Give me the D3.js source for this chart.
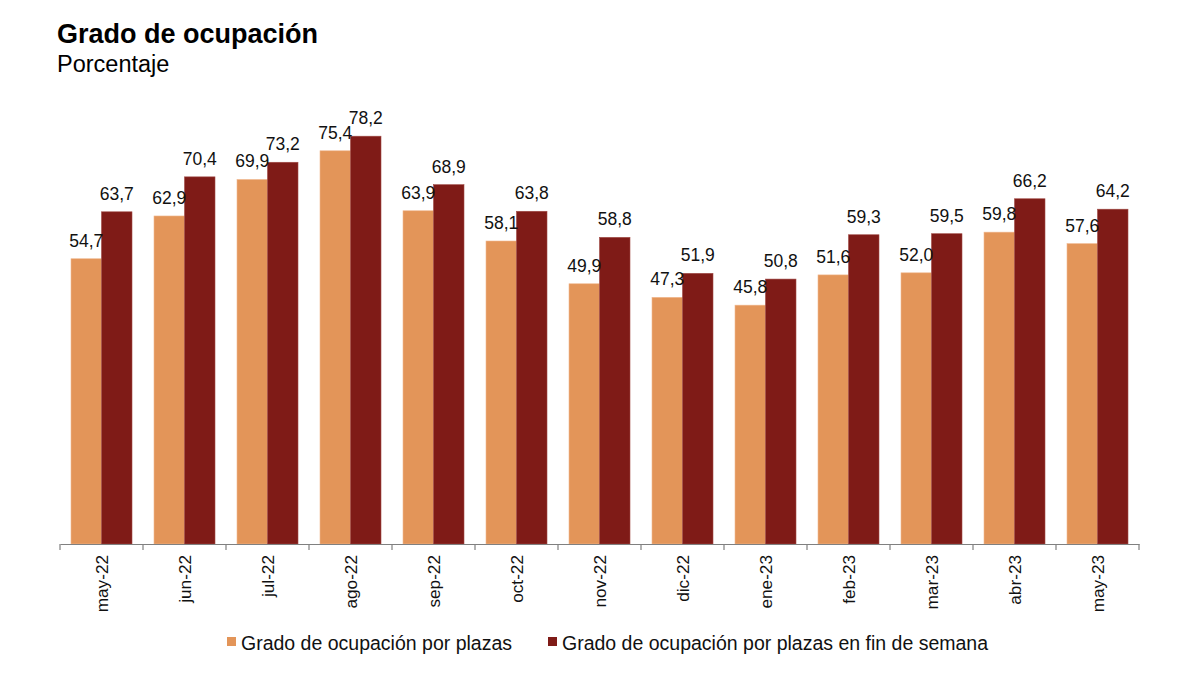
<!DOCTYPE html>
<html>
<head>
<meta charset="utf-8">
<script src="https://cdn.jsdelivr.net/npm/d3@7"></script>
<style>
  body { margin: 0; background: #fff; }
  svg { display: block; font-family: "Liberation Sans", Arial, sans-serif; }
</style>
</head>
<body>
<svg width="1200" height="675"></svg>
<script>
const months = ["may-22", "jun-22", "jul-22", "ago-22", "sep-22", "oct-22", "nov-22",
  "dic-22", "ene-23", "feb-23", "mar-23", "abr-23", "may-23"];
const plazas = [54.7, 62.9, 69.9, 75.4, 63.9, 58.1, 49.9, 47.3, 45.8, 51.6, 52.0, 59.8, 57.6];
const finSemana = [63.7, 70.4, 73.2, 78.2, 68.9, 63.8, 58.8, 51.9, 50.8, 59.3, 59.5, 66.2, 64.2];
const seriesNames = ["Grado de ocupación por plazas", "Grado de ocupación por plazas en fin de semana"];
const colors = ["#E39559", "#7F1B17"];

const svg = d3.select('svg');

svg.append('text')
    .attr('x', 57).attr('y', 43)
    .attr('font-size', 27).attr('font-weight', 'bold')
    .text('Grado de ocupación');
svg.append('text')
    .attr('x', 57).attr('y', 72)
    .attr('font-size', 23.5)
    .text('Porcentaje');

const x0 = d3.scaleBand().domain(months).range([60, 1139]);
const x1 = d3.scaleBand().domain([0, 1]).range([11, 72]);
const y = d3.scaleLinear().domain([0, 80]).range([544, 544 - 80 * 5.215]);

const fmt = v => v.toFixed(1).replace('.', ',');

const data = months.map((m, i) => ({ month: m, values: [plazas[i], finSemana[i]] }));

const groups = svg.selectAll('g.month')
  .data(data)
  .enter()
  .append('g')
  .attr('class', 'month')
  .attr('transform', d => `translate(${x0(d.month)},0)`);

groups.selectAll('rect')
  .data(d => d.values)
  .enter()
  .append('rect')
  .attr('x', (_, i) => x1(i))
  .attr('width', x1.bandwidth())
  .attr('y', v => y(v))
  .attr('height', v => y(0) - y(v))
  .attr('fill', (_, i) => colors[i])
  .attr('stroke', (_, i) => i === 0 ? '#F0B890' : '#A04A45')
  .attr('stroke-width', 0.6);

groups.selectAll('text')
  .data(d => d.values)
  .enter()
  .append('text')
  .attr('x', (_, i) => x1(i) + x1.bandwidth() / 2)
  .attr('y', v => y(v) - 12)
  .attr('text-anchor', 'middle')
  .attr('font-size', 17.5)
  .attr('fill', '#111')
  .text(fmt);

// axis
const axis = svg.append('g')
    .attr('transform', `translate(0, ${y(0)})`)
    .call(d3.axisBottom(x0).tickSize(0).tickFormat(''));
axis.select('.domain').attr('stroke', '#808080').attr('stroke-width', 1.2);

svg.append('g')
  .selectAll('line')
  .data(months.concat(['end']))
  .enter()
  .append('line')
  .attr('x1', (d, i) => i < months.length ? x0(d) : x0.range()[1])
  .attr('x2', (d, i) => i < months.length ? x0(d) : x0.range()[1])
  .attr('y1', y(0))
  .attr('y2', y(0) + 6)
  .attr('stroke', '#808080')
  .attr('stroke-width', 1.2);

svg.append('g')
  .selectAll('text')
  .data(months)
  .enter()
  .append('text')
  .attr('transform', d => `translate(${x0(d) + x0.bandwidth() / 2}, ${y(0) + 11}) rotate(-90)`)
  .attr('text-anchor', 'end')
  .attr('dy', '0.35em')
  .attr('font-size', 17.2)
  .attr('fill', '#111')
  .text(d => d);

// legend
const legendX = [227, 548];
const legend = svg.append('g')
  .selectAll('g')
  .data(seriesNames)
  .enter()
  .append('g')
  .attr('transform', (_, i) => `translate(${legendX[i]}, 637)`);
legend.append('rect')
  .attr('width', 9).attr('height', 9)
  .attr('fill', (_, i) => colors[i]);
legend.append('text')
  .attr('x', 14).attr('y', 13)
  .attr('font-size', 19.5)
  .attr('fill', '#111')
  .text(d => d);
</script>
</body>
</html>
